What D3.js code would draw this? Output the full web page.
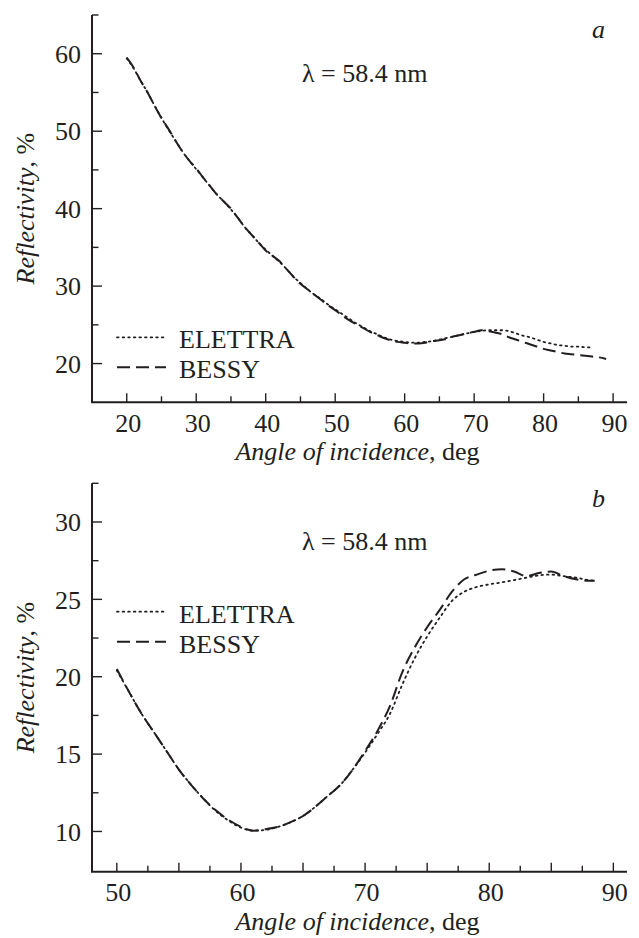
<!DOCTYPE html>
<html>
<head>
<meta charset="utf-8">
<script src="https://cdn.jsdelivr.net/npm/d3@7"></script>
<style>
  html, body { margin: 0; padding: 0; background: #fff; }
  svg { display: block; }
  text { font-family: "Liberation Serif", "Times New Roman", serif; fill: #231f20; }
</style>
</head>
<body>
<svg id="chart" width="639" height="938"></svg>
<script>
// ---------- Data ----------
const angleA = [20,21,22,23,24,25,26,27,28,29,30,31,32,33,34,35,36,37,38,39,40,41,42,43,44,45,46,47,48,49,50,51,52,53,54,55,56,57,58,59,60,61,62,63,64,65,66,67,68,69,70,71,72,73,74,75,76,77,78,79,80,81,82,83,84,85,86,87,88,89];
const bessyA = [59.5,58.2,56.5,55.0,53.3,51.7,50.3,48.8,47.4,46.2,45.2,44.0,42.9,41.8,40.9,40.0,38.8,37.6,36.6,35.6,34.6,33.9,33.2,32.2,31.2,30.3,29.6,28.9,28.2,27.5,26.9,26.2,25.6,25.1,24.6,24.1,23.7,23.3,23.0,22.8,22.7,22.6,22.6,22.7,22.9,23.0,23.2,23.5,23.7,23.9,24.1,24.3,24.2,24.0,23.8,23.4,23.1,22.8,22.5,22.2,21.9,21.7,21.5,21.3,21.2,21.1,21.0,20.9,20.8,20.6];
const angleAE = [20,21,22,23,24,25,26,27,28,29,30,31,32,33,34,35,36,37,38,39,40,41,42,43,44,45,46,47,48,49,50,51,52,53,54,55,56,57,58,59,60,61,62,63,64,65,66,67,68,69,70,71,72,73,74,75,76,77,78,79,80,81,82,83,84,85,86,87];
const elettraA = [59.4,58.1,56.5,55.0,53.3,51.7,50.2,48.8,47.4,46.2,45.1,44.0,42.9,41.8,40.9,39.9,38.8,37.6,36.6,35.6,34.7,33.9,33.1,32.2,31.2,30.4,29.6,28.9,28.3,27.6,27.0,26.4,25.8,25.2,24.7,24.2,23.8,23.4,23.1,22.9,22.8,22.7,22.7,22.8,22.9,23.1,23.3,23.5,23.7,23.9,24.1,24.2,24.3,24.3,24.3,24.2,23.9,23.6,23.4,23.1,22.8,22.6,22.4,22.3,22.2,22.2,22.1,22.1];

const angleB = [50,51,52,53,54,55,56,57,58,59,60,61,62,63,64,65,66,67,68,69,70,71,72,73,74,75,76,77,78,79,80,81,82,83,84,85,86,87,88,88.5];
const bessyB = [20.5,19.0,17.6,16.4,15.2,14.0,13.0,12.1,11.35,10.75,10.3,10.05,10.15,10.3,10.6,11.0,11.6,12.3,13.0,14.0,15.2,16.5,18.1,20.3,21.9,23.2,24.3,25.5,26.3,26.6,26.85,26.95,26.8,26.5,26.7,26.8,26.5,26.3,26.2,26.2];
const elettraB = [20.4,19.0,17.6,16.4,15.2,14.0,13.0,12.1,11.3,10.7,10.25,10.05,10.1,10.3,10.6,11.0,11.6,12.3,13.0,14.0,15.1,16.3,17.6,19.5,21.2,22.6,23.8,24.9,25.5,25.8,25.97,26.1,26.25,26.4,26.55,26.6,26.5,26.4,26.25,26.2];

const seriesNames = ["ELETTRA", "BESSY"];
const xTickLabelsA = [20,30,40,50,60,70,80,90];
const yTickLabelsA = [20,30,40,50,60];
const xTickLabelsB = [50,60,70,80,90];
const yTickLabelsB = [10,15,20,25,30];

// ---------- Layout ----------
const svg = d3.select("#chart");
const INK = "#231f20";
const FS = 26;

const panels = [
  {
    letter: "a",
    x: d3.scaleLinear().domain([15, 92]).range([92, 627]),
    y: d3.scaleLinear().domain([15, 65]).range([402.3, 15]),
    xLabels: xTickLabelsA, xMajor: xTickLabelsA, xMinor: [25,35,45,55,65,75,85],
    yLabels: yTickLabelsA, yMinor: [25,35,45,55,65],
    elettra: angleAE.map((a,i)=>[a, elettraA[i]]),
    bessy: angleA.map((a,i)=>[a, bessyA[i]]),
    lambdaY: 82, letterY: 38, legendY: 337.3
  },
  {
    letter: "b",
    x: d3.scaleLinear().domain([48, 91.1]).range([92, 627]),
    y: d3.scaleLinear().domain([7.4, 32.5]).range([871.7, 483.3]),
    xLabels: xTickLabelsB, xMajor: [50,55,60,65,70,75,80,85,90],
    xMinor: [52.5,57.5,62.5,67.5,72.5,77.5,82.5,87.5],
    yLabels: yTickLabelsB, yMinor: [12.5,17.5,22.5,27.5,32.5],
    elettra: angleB.map((a,i)=>[a, elettraB[i]]),
    bessy: angleB.map((a,i)=>[a, bessyB[i]]),
    lambdaY: 550, letterY: 507, legendY: 611.7
  }
];

const dashPattern = "13,6";
const dotPattern = "1.6,4";

panels.forEach(p => {
  const g = svg.append("g");
  const [x0, x1] = p.x.range();
  const [yb, yt] = p.y.range();

  // Axis lines
  g.append("path")
    .attr("d", `M${x0},${yt}V${yb}H${x1}`)
    .attr("fill", "none").attr("stroke", INK).attr("stroke-width", 2);

  // X ticks
  g.selectAll(".xmaj").data(p.xMajor).join("line")
    .attr("x1", d => p.x(d)).attr("x2", d => p.x(d))
    .attr("y1", yb).attr("y2", yb - 9)
    .attr("stroke", INK).attr("stroke-width", 1.4);
  g.selectAll(".xmin").data(p.xMinor).join("line")
    .attr("x1", d => p.x(d)).attr("x2", d => p.x(d))
    .attr("y1", yb).attr("y2", yb - 6)
    .attr("stroke", INK).attr("stroke-width", 1.4);
  g.selectAll(".xlab").data(p.xLabels).join("text")
    .attr("x", d => p.x(d) + 1.5).attr("y", yb + 29.5)
    .attr("text-anchor", "middle").attr("font-size", FS)
    .text(d => d);

  // Y ticks
  g.selectAll(".ymaj").data(p.yLabels).join("line")
    .attr("x1", x0).attr("x2", x0 + 10)
    .attr("y1", d => p.y(d)).attr("y2", d => p.y(d))
    .attr("stroke", INK).attr("stroke-width", 1.4);
  g.selectAll(".ymin").data(p.yMinor).join("line")
    .attr("x1", x0).attr("x2", x0 + 6.5)
    .attr("y1", d => p.y(d)).attr("y2", d => p.y(d))
    .attr("stroke", INK).attr("stroke-width", 1.4);
  g.selectAll(".ylab").data(p.yLabels).join("text")
    .attr("x", x0 - 11).attr("y", d => p.y(d) + 9.3)
    .attr("text-anchor", "end").attr("font-size", FS)
    .text(d => d);

  // Axis titles
  const xt = g.append("text")
    .attr("x", (x0 + x1) / 2 - 2).attr("y", yb + 58)
    .attr("text-anchor", "middle").attr("font-size", FS);
  xt.append("tspan").attr("font-style", "italic").text("Angle of incidence");
  xt.append("tspan").text(", deg");

  const yc = (yb + yt) / 2;
  const yt2 = g.append("text")
    .attr("transform", `translate(34,${yc}) rotate(-90)`)
    .attr("text-anchor", "middle").attr("font-size", FS);
  yt2.append("tspan").attr("font-style", "italic").text("Reflectivity");
  yt2.append("tspan").text(", %");

  // Annotations
  g.append("text").attr("x", 302).attr("y", p.lambdaY)
    .attr("font-size", FS).text("λ = 58.4 nm");
  g.append("text").attr("x", 592).attr("y", p.letterY)
    .attr("font-size", FS).attr("font-style", "italic").text(p.letter);

  // Curves
  const line = d3.line().x(d => p.x(d[0])).y(d => p.y(d[1])).curve(d3.curveMonotoneX);
  g.append("path").datum(p.bessy).attr("d", line)
    .attr("fill", "none").attr("stroke", INK).attr("stroke-width", 2)
    .attr("stroke-dasharray", dashPattern);
  g.append("path").datum(p.elettra).attr("d", line)
    .attr("fill", "none").attr("stroke", INK).attr("stroke-width", 1.8)
    .attr("stroke-linecap", "round")
    .attr("stroke-dasharray", dotPattern);

  // Legend
  const styles = [
    {dash: dotPattern, w: 1.8, cap: "round"},
    {dash: dashPattern, w: 2, cap: "butt"}
  ];
  seriesNames.forEach((name, i) => {
    const ly = p.legendY + i * 30;
    g.append("line").attr("x1", 117).attr("x2", 166)
      .attr("y1", ly).attr("y2", ly)
      .attr("stroke", INK).attr("stroke-width", styles[i].w)
      .attr("stroke-linecap", styles[i].cap)
      .attr("stroke-dasharray", styles[i].dash);
    g.append("text").attr("x", 179).attr("y", ly + 11)
      .attr("font-size", FS).text(name);
  });
});
</script>
</body>
</html>
